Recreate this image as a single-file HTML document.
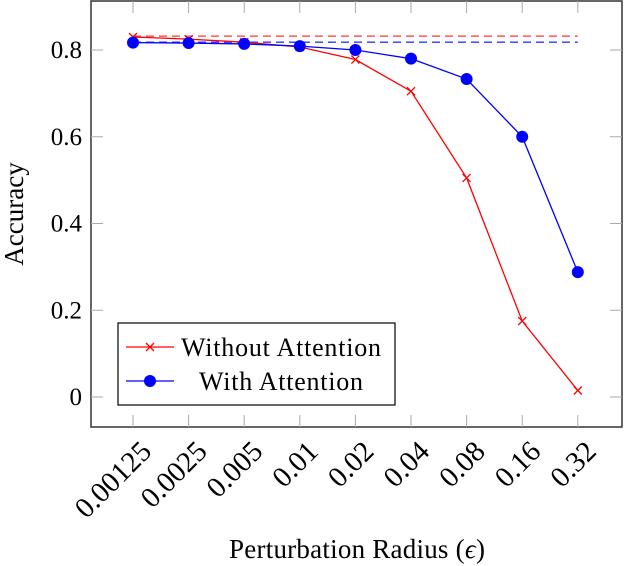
<!DOCTYPE html>
<html><head><meta charset="utf-8"><style>
body{margin:0;background:#fff}
text{font-family:"Liberation Serif",serif}
</style></head><body>
<svg width="624" height="566" style="position:absolute;left:0;top:0">
<g id="g"></g>
</svg>
<script>
const categories=["0.00125","0.0025","0.005","0.01","0.02","0.04","0.08","0.16","0.32"];
const withoutAttention=[0.83,0.825,0.818,0.807,0.778,0.705,0.505,0.175,0.015];
const withAttention=[0.817,0.816,0.814,0.809,0.800,0.780,0.733,0.600,0.288];
const baselineWithout=0.832;
const baselineWith=0.818;
const yTicks=[0,0.2,0.4,0.6,0.8];
const NS="http://www.w3.org/2000/svg";
const g=document.getElementById('g');
const X=i=>133+i*55.6;
const Y=v=>397-v*433.75;
function el(t,a,p){const e=document.createElementNS(NS,t);for(const k in a)e.setAttribute(k,a[k]);(p||g).appendChild(e);return e;}
const frame=el('rect',{x:91,y:1,width:531,height:426,fill:'none',stroke:'#333','stroke-width':1.5});


yTicks.forEach(v=>{
 const y=Y(v);
 el('line',{x1:91,x2:103,y1:y,y2:y,stroke:'#aaa'});
 el('line',{x1:610,x2:622,y1:y,y2:y,stroke:'#aaa'});
 const t=el('text',{x:82,y:y+8,'text-anchor':'end','font-size':25,'font-family':'Liberation Serif, serif'});
 t.textContent=String(v);
 
 
});
categories.forEach((c,i)=>{
 const x=X(i);
 el('line',{x1:x,x2:x,y1:415,y2:427,stroke:'#aaa'});
 el('line',{x1:x,x2:x,y1:1,y2:13,stroke:'#aaa'});
 const t=el('text',{x:0,y:0,'text-anchor':'end','font-size':29,'font-family':'Liberation Serif, serif',transform:`translate(${x+20},${453}) rotate(-45)`});
 t.textContent=c;
 
 
});
const b1=el('line',{x1:X(0),x2:X(categories.length-1),y1:Y(baselineWithout),y2:Y(baselineWithout),stroke:'#f33','stroke-width':1.3,'stroke-dasharray':'8,5'});


const b2=el('line',{x1:X(0),x2:X(categories.length-1),y1:Y(baselineWith),y2:Y(baselineWith),stroke:'#33f','stroke-width':1.3,'stroke-dasharray':'8,5'});


const l1=el('polyline',{points:withoutAttention.map((v,i)=>X(i)+','+Y(v)).join(' '),fill:'none',stroke:'red','stroke-width':1.3});


withoutAttention.forEach((v,i)=>{
 const x=X(i),y=Y(v);
 const m=el('path',{d:`M${x-4} ${y-4}L${x+4} ${y+4}M${x-4} ${y+4}L${x+4} ${y-4}`,stroke:'red','stroke-width':1.3});
 
 
});
const l2=el('polyline',{points:withAttention.map((v,i)=>X(i)+','+Y(v)).join(' '),fill:'none',stroke:'blue','stroke-width':1.3});


withAttention.forEach((v,i)=>{
 const m=el('circle',{cx:X(i),cy:Y(v),r:6,fill:'blue'});
 
 
});
</script>
<svg width="624" height="566" style="position:absolute;left:0;top:0">
<g>
<rect x="118" y="323" width="277" height="82" fill="#fff" stroke="#000" stroke-width="1.2"/>
<line x1="126" x2="174" y1="347" y2="347" stroke="red" stroke-width="1.3"/>
<path d="M146 343L154 351M146 351L154 343" stroke="red" stroke-width="1.3"/>
<text x="181" y="356" font-size="26" textLength="200" font-family="Liberation Serif,serif">Without Attention</text>
<line x1="126" x2="174" y1="381" y2="381" stroke="blue" stroke-width="1.3"/>
<circle cx="150" cy="381" r="6" fill="blue"/>
<text x="199" y="390" font-size="26" textLength="164" font-family="Liberation Serif,serif">With Attention</text>
</g>
<text transform="translate(23,214) rotate(-90)" text-anchor="middle" font-size="27" font-family="Liberation Serif,serif">Accuracy</text>
<text x="357" y="558" text-anchor="middle" font-size="27" textLength="256" font-family="Liberation Serif,serif">Perturbation Radius (<tspan font-style="italic">ϵ</tspan>)</text>
</svg>
</body></html>
